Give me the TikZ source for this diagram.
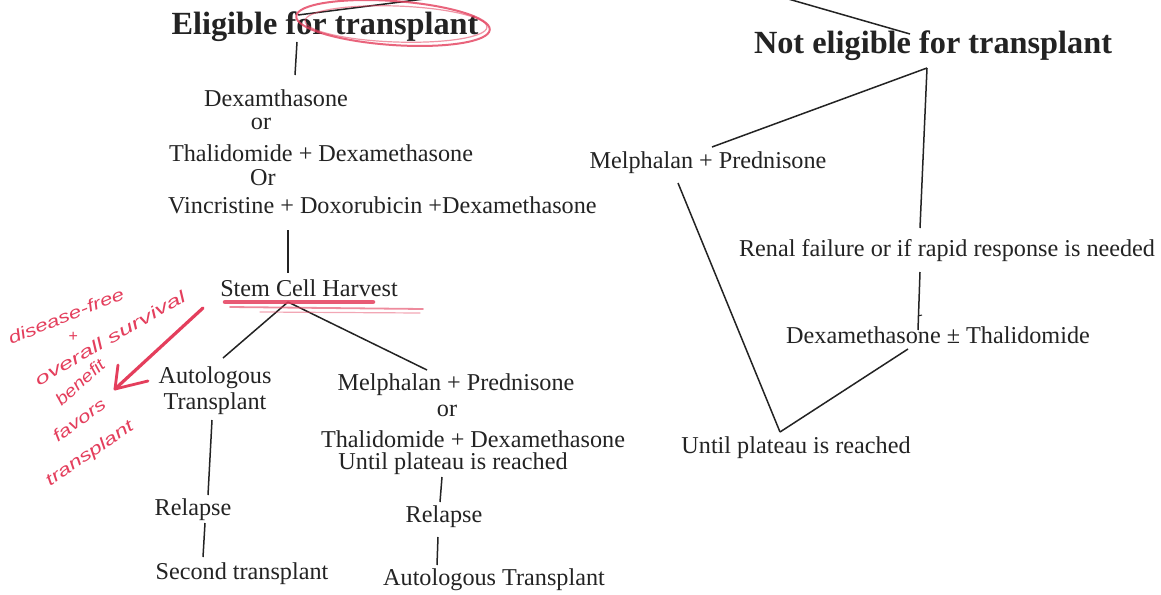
\documentclass[tikz,border=0pt]{standalone}
\usepackage{fontspec}
\setmainfont{Liberation Serif}
\newfontfamily\handfont{Liberation Sans}
\usetikzlibrary{calc}
\definecolor{ink}{RGB}{35,35,35}
\definecolor{pen}{RGB}{228,62,92}
\newcommand{\hwtext}[2]{\scalebox{#1}[1.05]{#2}}
\begin{document}
\begin{tikzpicture}[x=1pt,y=-1pt,
  lbl/.style={inner sep=0pt, text=ink, font=\fontsize{24.2}{26}\selectfont},
  head/.style={inner sep=0pt, text=ink, font=\fontsize{32.3}{34}\selectfont\bfseries},
  link/.style={draw=ink, line width=1.5pt},
  redpen/.style={draw=pen, line cap=round, line join=round},
  note/.style={text=pen, inner sep=0pt, font=\handfont\itshape\fontsize{16}{17}\selectfont}]
\useasboundingbox[fill=white] (0,0) rectangle (1161,594);

% ---------- nodes ----------
\coordinate (root) at (677,-33);
\node[head] (elig)  at (325,27) {Eligible for transplant};
\node[head] (nelig) at (933,46) {Not eligible for transplant};

\node[lbl] (dexa) at (276,98)  {Dexamthasone};
\node[lbl] (or1)  at (261,124) {or};
\node[lbl] (thal) at (321,153) {Thalidomide + Dexamethasone};
\node[lbl] (or2)  at (263,178) {Or};
\node[lbl,anchor=west] (vinc) at (168,205) {Vincristine + Doxorubicin +Dexamethasone};

\node[lbl] (stem) at (309,288) {Stem Cell Harvest};
\node[lbl,align=center] (auto1) at (215,391) {Autologous\\Transplant};
\node[lbl] (mp1)    at (456,385) {Melphalan + Prednisone};
\node[lbl] (or3)    at (447,411) {or};
\node[lbl] (td1)    at (473,439) {Thalidomide + Dexamethasone};
\node[lbl] (until1) at (453,464) {Until plateau is reached};
\node[lbl] (rel1)   at (193,510) {Relapse};
\node[lbl] (second) at (242,574) {Second transplant};
\node[lbl] (rel2)   at (444,517) {Relapse};
\node[lbl] (auto2)  at (494,580) {Autologous Transplant};

\node[lbl] (mp2)    at (708,163) {Melphalan + Prednisone};
\node[lbl] (renal)  at (947,251) {Renal failure or if rapid response is needed};
\node[lbl] (dt)     at (938,335) {Dexamethasone ± Thalidomide};
\node[lbl] (until2) at (796,448) {Until plateau is reached};

% ---------- connectors ----------
\draw[link] (root) -- ($(elig)+(-27,-12)$);
\draw[link] (root) -- ($(nelig)+(-23,-12)$);
\draw[link] ($(elig)+(-28,15)$) -- ($(dexa)+(19,-23)$);
\draw[link] ($(vinc.west)+(120,25)$) -- ($(stem)+(-21,-15)$);
\draw[link] ($(stem)+(-21,14)$) -- ($(auto1)+(8,-33)$);
\draw[link] ($(stem)+(-21,14)$) -- ($(mp1)+(-29,-15)$);
\draw[link] ($(auto1)+(-3,29)$) -- ($(rel1)+(15,-15)$);
\draw[link] ($(rel1)+(12,13)$) -- ($(second)+(-39,-17)$);
\draw[link] ($(until1)+(-11,13)$) -- ($(rel2)+(-4,-15)$);
\draw[link] ($(rel2)+(-6,20)$) -- ($(auto2)+(-57,-15)$);

\draw[link] ($(nelig)+(-6,22)$) -- ($(mp2)+(4,-16)$);
\draw[link] ($(nelig)+(-6,22)$) -- ($(renal)+(-27,-23)$);
\draw[link] ($(renal)+(-27,21)$) -- ($(dt)+(-20,-5)$);
\draw[link, line width=1pt] ($(dt)+(-20,-19)$) -- ($(dt)+(-16,-20)$);
\draw[link] ($(mp2)+(-30,20)$) -- ($(until2)+(-16,-16)$);
\draw[link] ($(dt)+(-30,14)$) -- ($(until2)+(-16,-16)$);

% ---------- red pen marks ----------
\draw[redpen, line width=2pt, opacity=.8] ($(elig)+(68,-4)$) ellipse[x radius=97, y radius=22, rotate=-4];
\draw[redpen, line width=1.2pt, opacity=.55] ($(elig)+(71,-3)$) ellipse[x radius=91, y radius=18, rotate=-2];

\draw[redpen, line width=4.5pt, opacity=.85] ($(stem)+(-84,14)$) -- ($(stem)+(64,14)$);
\draw[redpen, line width=1.8pt, opacity=.6] ($(stem)+(-79,19)$) -- ($(stem)+(114,21)$);
\draw[redpen, line width=1.2pt, opacity=.45] ($(stem)+(-49,24)$) -- ($(stem)+(111,25)$);

\coordinate (tip) at (115,389);
\draw[redpen, line width=3.2pt] ($(stem)+(-106,20)$) -- (tip);
\draw[redpen, line width=2.8pt] (118,365) -- (tip) -- (148,381);

\node[note, rotate=22] (n1) at (66,316) {\hwtext{1.4}{disease-free}};
\node[note] (n2) at (73,337) {+};
\node[note, rotate=30] (n3) at (110,338) {\hwtext{1.62}{overall survival}};
\node[note, rotate=42] (n4) at (80,382) {\hwtext{1.25}{benefit}};
\node[note, rotate=36] (n5) at (79,420) {\hwtext{1.4}{favors}};
\node[note, rotate=34] (n6) at (90,454) {\hwtext{1.45}{transplant}};
\end{tikzpicture}
\end{document}
